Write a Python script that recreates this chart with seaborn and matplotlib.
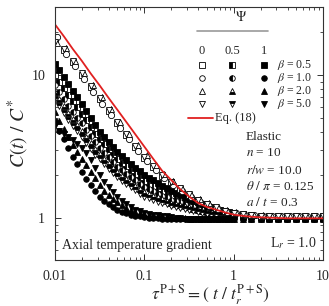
import numpy as np
import pandas as pd
import matplotlib
matplotlib.use('Agg')
import matplotlib.pyplot as plt
import seaborn as sns
from matplotlib.ticker import FuncFormatter, LogLocator, NullFormatter

# x grids (tau^{P+S})
x_dense = [0.01, 0.0112, 0.0126, 0.0141, 0.0158, 0.0178, 0.02, 0.0224, 0.0251, 0.0282,
           0.0316, 0.0355, 0.0398, 0.0447, 0.0501, 0.0562, 0.0631, 0.0708, 0.0794, 0.0891,
           0.1, 0.112, 0.126, 0.141, 0.158, 0.178, 0.2, 0.224, 0.251, 0.282,
           0.316, 0.355, 0.398, 0.447, 0.501, 0.562, 0.631, 0.708, 0.794, 0.891,
           1.0, 1.26, 1.58, 2.0, 2.51, 3.16, 3.98, 5.01, 6.31, 7.94, 10.0]
x_open = [0.01, 0.0126, 0.0158, 0.02, 0.0251, 0.0316, 0.0398, 0.0501, 0.0631, 0.0794,
          0.1, 0.126, 0.158, 0.2, 0.251, 0.316, 0.398, 0.501, 0.631, 0.794,
          1.0, 1.26, 1.58, 2.0, 2.51, 3.16, 3.98, 5.01, 6.31, 7.94, 10.0]
x_open2 = [0.0106, 0.0134, 0.0168, 0.0211, 0.0266, 0.0335, 0.0422, 0.0531, 0.0668, 0.0841,
           0.106, 0.134, 0.168, 0.211, 0.266, 0.335, 0.422, 0.531, 0.668, 0.841,
           1.06, 1.34, 1.68, 2.11, 2.66, 3.35, 4.22, 5.31, 6.68, 8.41, 10.6]

# Eq. (18)
eq18 = [22.7, 18.7, 15.3, 12.6, 10.3, 8.5, 6.95, 5.72, 4.7, 3.86,
        3.17, 2.6, 2.15, 1.85, 1.6, 1.42, 1.28, 1.2, 1.15, 1.1,
        1.06, 1.04, 1.025, 1.015, 1.01, 1.005, 1.0, 1.0, 1.0, 1.0, 1.0]

# Psi = 0 (open symbols)
psi0_b05 = [17.5, 15.0, 12.3, 10.1, 8.3, 6.8, 5.6, 4.6, 3.8, 3.15, 2.65, 2.28, 1.98, 1.78, 1.6, 1.46,
            1.34, 1.25, 1.18, 1.13, 1.09, 1.07, 1.05, 1.045, 1.04, 1.04, 1.035, 1.035, 1.03, 1.03, 1.03]
psi0_b10 = [18.4, 14.0, 11.7, 9.4, 7.6, 6.3, 5.25, 4.3, 3.6, 2.95, 2.5, 2.18, 1.9, 1.72, 1.55, 1.42,
            1.31, 1.22, 1.16, 1.11, 1.08, 1.06, 1.05, 1.04, 1.04, 1.035, 1.03, 1.03, 1.03, 1.03, 1.03]
psi0_b20 = [16.7, 15.5, 12.6, 10.4, 8.5, 7.0, 5.8, 4.75, 3.9, 3.25, 2.75, 2.35, 2.05, 1.82, 1.63, 1.48,
            1.36, 1.27, 1.19, 1.14, 1.1, 1.07, 1.055, 1.05, 1.045, 1.04, 1.04, 1.035, 1.035, 1.03, 1.03]
psi0_b50 = [17.0, 15.3, 12.5, 10.3, 8.45, 6.95, 5.7, 4.7, 3.88, 3.22, 2.7, 2.32, 2.02, 1.8, 1.62, 1.47,
            1.35, 1.26, 1.19, 1.13, 1.095, 1.07, 1.055, 1.045, 1.04, 1.04, 1.035, 1.035, 1.03, 1.03, 1.03]

# Psi = 0.5 (half-filled symbols)
psi05_b05 = [10.0, 9.0, 8.1, 7.3, 6.6, 6.0, 5.4, 4.85, 4.35, 3.91, 3.56, 3.29, 3.04, 2.81, 2.6, 2.45, 2.31,
             2.18, 2.05, 1.93, 1.82, 1.75, 1.69, 1.62, 1.56, 1.51, 1.45, 1.41, 1.37, 1.34, 1.3, 1.26, 1.23,
             1.2, 1.17, 1.15, 1.13, 1.11, 1.09, 1.08, 1.06, 1.045, 1.03, 1.02, 1.01, 1.005, 1.0, 1.0, 1.0, 1.0, 1.0]
psi05_b10 = [8.5, 7.6, 6.8, 6.1, 5.5, 5.05, 4.6, 4.15, 3.75, 3.4, 3.12, 2.88, 2.67, 2.47, 2.3, 2.17, 2.05,
             1.94, 1.84, 1.74, 1.65, 1.6, 1.54, 1.49, 1.44, 1.4, 1.35, 1.32, 1.29, 1.26, 1.23, 1.21, 1.18,
             1.16, 1.13, 1.11, 1.1, 1.08, 1.07, 1.05, 1.04, 1.03, 1.02, 1.01, 1.005, 1.0, 1.0, 1.0, 1.0, 1.0, 1.0]
psi05_b20 = [7.6, 6.8, 6.1, 5.45, 4.95, 4.5, 4.1, 3.7, 3.35, 3.05, 2.82, 2.61, 2.43, 2.26, 2.1, 1.99, 1.88,
             1.79, 1.69, 1.6, 1.52, 1.48, 1.44, 1.4, 1.36, 1.32, 1.28, 1.26, 1.23, 1.21, 1.19, 1.17, 1.15,
             1.12, 1.1, 1.09, 1.07, 1.06, 1.05, 1.04, 1.03, 1.02, 1.01, 1.005, 1.0, 1.0, 1.0, 1.0, 1.0, 1.0, 1.0]
psi05_b50 = [6.8, 6.1, 5.45, 4.9, 4.45, 4.05, 3.7, 3.35, 3.05, 2.78, 2.58, 2.39, 2.22, 2.07, 1.93, 1.83, 1.74,
             1.65, 1.57, 1.49, 1.42, 1.38, 1.35, 1.31, 1.28, 1.25, 1.22, 1.2, 1.18, 1.16, 1.14, 1.12, 1.1,
             1.09, 1.07, 1.06, 1.05, 1.04, 1.03, 1.025, 1.02, 1.01, 1.005, 1.0, 1.0, 1.0, 1.0, 1.0, 1.0, 1.0, 1.0]

# Psi = 1 (filled symbols)
psi1_b05 = [12.0, 10.8, 9.7, 8.7, 7.8, 7.0, 6.3, 5.6, 5.0, 4.46, 4.04, 3.71, 3.41, 3.14, 2.9, 2.72, 2.56,
            2.41, 2.26, 2.13, 2.0, 1.92, 1.84, 1.76, 1.69, 1.62, 1.55, 1.5, 1.45, 1.4, 1.36, 1.32, 1.29,
            1.25, 1.22, 1.19, 1.17, 1.15, 1.12, 1.1, 1.08, 1.06, 1.04, 1.02, 1.015, 1.01, 1.01, 1.005, 1.0, 1.0, 1.0]
psi1_b10 = [4.8, 4.1, 3.6, 3.1, 2.7, 2.38, 2.1, 1.88, 1.7, 1.55, 1.42, 1.32, 1.25, 1.19, 1.14, 1.1, 1.08,
            1.06, 1.04, 1.03, 1.02, 1.01, 1.005, 1.0, 0.995, 0.99, 0.99, 0.99, 0.99, 0.99, 0.99, 0.99, 0.99,
            0.99, 0.99, 0.99, 0.99, 0.99, 0.99, 0.99, 0.99, 0.99, 0.99, 0.99, 0.99, 0.99, 0.99, 0.99, 0.99, 0.99, 0.99]
psi1_b20 = [5.5, 4.8, 4.2, 3.7, 3.25, 2.9, 2.6, 2.35, 2.12, 1.9, 1.7, 1.56, 1.45, 1.37, 1.3, 1.24, 1.18,
            1.14, 1.11, 1.09, 1.07, 1.06, 1.05, 1.04, 1.03, 1.025, 1.02, 1.01, 1.005, 1.0, 0.995, 0.99, 0.99,
            0.99, 0.99, 0.99, 0.99, 0.99, 0.99, 0.99, 0.99, 0.99, 0.99, 0.99, 0.99, 0.99, 0.99, 0.99, 0.99, 0.99, 0.99]
psi1_b50 = [4.4, 4.1, 3.9, 3.7, 3.5, 3.3, 3.1, 2.85, 2.55, 2.25, 2.0, 1.8, 1.65, 1.52, 1.4, 1.32, 1.25,
            1.19, 1.15, 1.12, 1.09, 1.07, 1.06, 1.05, 1.04, 1.03, 1.02, 1.01, 1.0, 0.995, 0.99, 0.99, 0.99,
            0.99, 0.99, 0.99, 0.99, 0.99, 0.99, 0.99, 0.99, 0.99, 0.99, 0.99, 0.99, 0.99, 0.99, 0.99, 0.99, 0.99, 0.99]

beta_labels = ['0.5', '1.0', '2.0', '5.0']
psi_labels = ['0', '0.5', '1']
shapes = ['s', 'o', '^', 'v']
half_fill = ['left', 'left', 'bottom', 'top']

sns.set_style('ticks')
plt.rcParams['font.family'] = ['Liberation Serif', 'DejaVu Serif']
plt.rcParams['mathtext.fontset'] = 'stix'
plt.rcParams['axes.linewidth'] = 0.8

fig = plt.figure(figsize=(3.29, 3.06), dpi=100)
ax = fig.add_axes([0.167, 0.150, 0.815, 0.827])
ax.set_xscale('log')
ax.set_yscale('log')


def draw(x, y, marker, fill, ms):
    df = pd.DataFrame({'x': x, 'y': y})
    if fill == 'open':
        kw = dict(markerfacecolor='white')
    elif fill == 'full':
        kw = dict(markerfacecolor='black')
    else:
        kw = dict(fillstyle=fill, markerfacecolor='black', markerfacecoloralt='white')
    sns.lineplot(data=df, x='x', y='y', ax=ax, marker=marker, linestyle='', color='black',
                 markeredgecolor='black', markeredgewidth=0.6, markersize=ms,
                 estimator=None, sort=False, **kw)


dense = [(psi05_b05, 0), (psi05_b10, 1), (psi05_b20, 2), (psi05_b50, 3)]
for vals, i in dense:
    draw(x_dense, vals, shapes[i], half_fill[i], 4.0)
filled = [(psi1_b05, 0), (psi1_b10, 1), (psi1_b20, 2), (psi1_b50, 3)]
for vals, i in filled:
    draw(x_dense, vals, shapes[i], 'full', 4.0)
draw(x_open, psi0_b05, 's', 'open', 4.5)
draw(x_open2, psi0_b10, 'o', 'open', 4.5)
draw(x_open2, psi0_b20, '^', 'open', 4.8)
draw(x_open, psi0_b50, 'v', 'open', 4.8)

sns.lineplot(x=x_open, y=eq18, ax=ax, color='#e02020', lw=1.3, estimator=None, sort=False)

ax.set_xlim(0.01, 10)
ax.set_ylim(0.51, 30)
fmt = FuncFormatter(lambda v, p: '{:g}'.format(v))
ax.xaxis.set_major_formatter(fmt)
ax.yaxis.set_major_formatter(fmt)
ax.yaxis.set_minor_formatter(NullFormatter())
ax.xaxis.set_minor_formatter(NullFormatter())
ax.xaxis.set_minor_locator(LogLocator(subs=np.arange(2, 10), numticks=20))
ax.yaxis.set_minor_locator(LogLocator(subs=np.arange(2, 10), numticks=20))
ax.tick_params(which='both', direction='in', top=True, right=True, labelsize=10, color='#333333')
ax.tick_params(which='major', length=4, width=0.7, pad=7)
ax.tick_params(which='minor', length=2.2, width=0.6)
for s in ax.spines.values():
    s.set_color('#333333')

ax.set_xlabel(r'$\tau^{\mathrm{P+S}} = (\ t\ /\ t_{r}^{\mathrm{P+S}})$', fontsize=12.5)
ax.xaxis.set_label_coords(0.58, -0.088)
ax.set_ylabel(r'$C(t)\ /\ C^{*}$', fontsize=14)
ax.yaxis.set_label_coords(-0.09, 0.5)


def px(xp, yp):
    return (xp - 55) / 268.0, (260 - yp) / 253.0


tr = ax.transAxes
ax.text(*px(241, 17), r'$\Psi$', ha='center', va='center', fontsize=10, transform=tr)
ax.plot([px(197, 0)[0], px(268, 0)[0]], [px(0, 31)[1]] * 2, color='#999999', lw=1.2, transform=tr)
cols = [202, 232, 264]
rows = [65, 78, 91, 104]
for c, lab in zip(cols, psi_labels):
    ax.text(*px(c, 51), lab, ha='center', va='center', fontsize=9, transform=tr)
for r, (shp, hf, bl) in enumerate(zip(shapes, half_fill, beta_labels)):
    yy = px(0, rows[r])[1]
    ax.plot(px(cols[0], 0)[0], yy, marker=shp, ms=4, mfc='white', mec='black', mew=0.6,
            transform=tr, clip_on=False)
    ax.plot(px(cols[1], 0)[0], yy, marker=shp, ms=4, fillstyle=hf, mfc='black', mfcalt='white',
            mec='black', mew=0.6, transform=tr, clip_on=False)
    ax.plot(px(cols[2], 0)[0], yy, marker=shp, ms=4, mfc='black', mec='black', mew=0.6,
            transform=tr, clip_on=False)
    ax.text(px(277, 0)[0], yy, r'$\beta$ = ' + bl, ha='left', va='center', fontsize=8.5, transform=tr)
ax.plot([px(188, 0)[0], px(213, 0)[0]], [px(0, 118)[1]] * 2, color='#e02020', lw=1.3, transform=tr)
ax.text(*px(215, 118), 'Eq. (18)', ha='left', va='center', fontsize=9, transform=tr)

info = ['Elastic', r'$n$ = 10', r'$r/w$ = 10.0', r'$\theta\ /\ \pi$ = 0.125', r'$a\ /\ t$ = 0.3']
info_y = [137, 153, 170, 186, 202]
for txt, yy in zip(info, info_y):
    ax.text(*px(246, yy), txt, ha='left', va='center', fontsize=9.5, transform=tr)
ax.text(*px(270, 243), r'L$_{r}$ = 1.0', ha='left', va='center', fontsize=10, transform=tr)
ax.text(*px(62, 245), 'Axial temperature gradient', ha='left', va='center', fontsize=10, transform=tr)

fig.savefig('out.png', dpi=100)
